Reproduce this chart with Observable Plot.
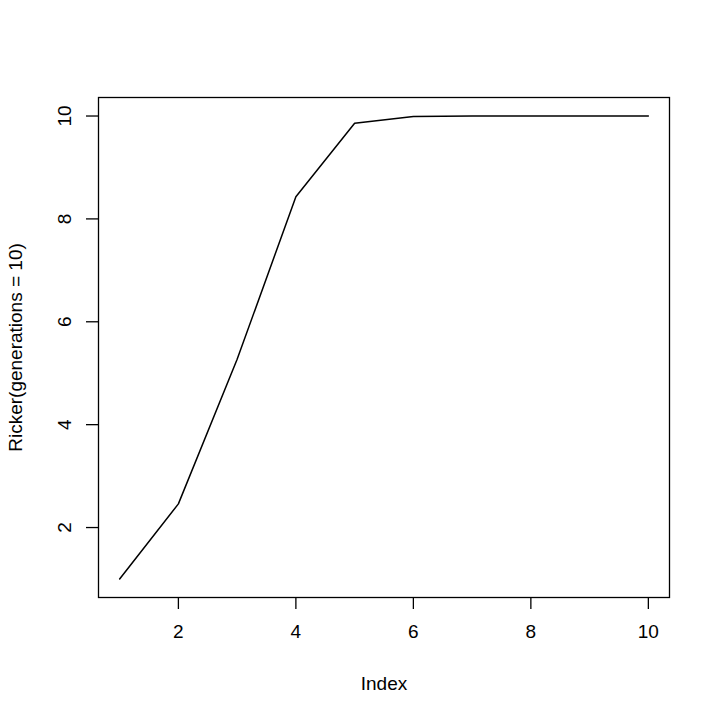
<!DOCTYPE html>
<html>
<head>
<meta charset="utf-8">
<script src="https://cdn.jsdelivr.net/npm/d3@7"></script>
<script src="https://cdn.jsdelivr.net/npm/@observablehq/plot@0.6"></script>
<style>
  html, body { margin: 0; padding: 0; background: #fff; }
</style>
</head>
<body>
<div id="chart"></div>
<script>
const index = [1, 2, 3, 4, 5, 6, 7, 8, 9, 10];
const values = [1, 2.46, 5.27, 8.43, 9.86, 9.99, 10, 10, 10, 10];
const xTicks = [2, 4, 6, 8, 10];
const yTicks = [2, 4, 6, 8, 10];

const data = index.map((x, i) => ({x, y: values[i]}));

const chart = Plot.plot({
  width: 720,
  height: 720,
  marginLeft: 98,
  marginRight: 51,
  marginTop: 97,
  marginBottom: 123,
  style: {fontFamily: "'Liberation Sans', Arial, Helvetica, sans-serif", fontSize: "19px", color: "#000", background: "#fff"},
  x: {domain: [0.64, 10.36]},
  y: {domain: [0.64, 10.36]},
  marks: [
    Plot.frame({stroke: "#000", strokeWidth: 1.3}),
    Plot.axisX({ticks: xTicks, tickSize: 12, tickPadding: 15, strokeWidth: 1.3, label: "Index", labelAnchor: "center", labelArrow: "none", labelOffset: 92, fontSize: 19}),
    Plot.axisY({ticks: yTicks, tickSize: 12, tickPadding: 16, tickRotate: -90, strokeWidth: 1.3, label: "Ricker(generations = 10)", labelAnchor: "center", labelArrow: "none", labelOffset: 90, fontSize: 19}),
    Plot.line(data, {x: "x", y: "y", stroke: "#000", strokeWidth: 1.5})
  ]
});
document.getElementById("chart").appendChild(chart);
</script>
</body>
</html>
